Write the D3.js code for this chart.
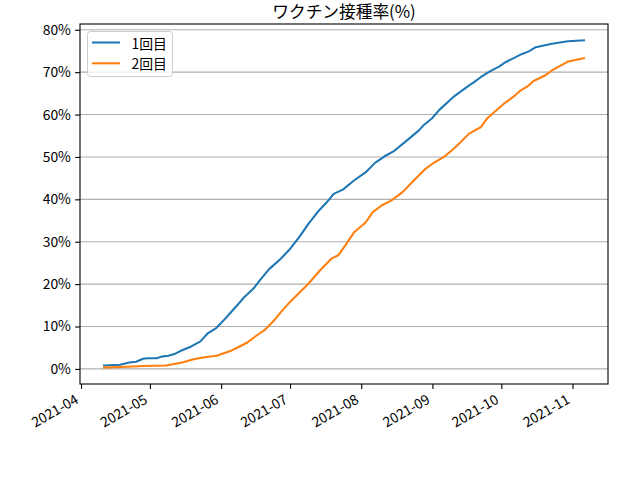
<!DOCTYPE html>
<html><head><meta charset="utf-8">
<script src="https://cdn.jsdelivr.net/npm/d3@7"></script>
<style>
html,body{margin:0;padding:0;background:#fff;}
svg{display:block;}
text{font-family:"Noto Sans CJK JP","Noto Sans",sans-serif;fill:#000;}
</style></head>
<body>
<script>
const title = "ワクチン接種率(%)";
const seriesNames = ["1回目", "2回目"];
const seriesColors = ["#1f77b4", "#ff7f0e"];

const dose1Dates = ["2021-04-11","2021-04-18","2021-04-22","2021-04-25","2021-04-28","2021-04-30","2021-05-04","2021-05-06","2021-05-09","2021-05-12","2021-05-15","2021-05-19","2021-05-23","2021-05-26","2021-05-30","2021-06-02","2021-06-05","2021-06-08","2021-06-11","2021-06-15","2021-06-18","2021-06-22","2021-06-27","2021-07-01","2021-07-05","2021-07-09","2021-07-13","2021-07-17","2021-07-20","2021-07-24","2021-07-29","2021-08-03","2021-08-07","2021-08-11","2021-08-15","2021-08-20","2021-08-26","2021-08-28","2021-09-01","2021-09-04","2021-09-10","2021-09-17","2021-09-19","2021-09-22","2021-09-26","2021-09-30","2021-10-03","2021-10-06","2021-10-10","2021-10-13","2021-10-16","2021-10-23","2021-10-30","2021-11-06"];
const dose1Values = [0.8,1.0,1.5,1.7,2.4,2.5,2.5,2.9,3.1,3.6,4.4,5.3,6.5,8.3,9.7,11.4,13.2,15.0,16.9,18.9,21.0,23.6,26.0,28.3,31.1,34.2,37.0,39.3,41.3,42.3,44.5,46.4,48.6,50.1,51.3,53.5,56.2,57.4,59.2,61.1,64.1,66.9,67.6,68.8,70.2,71.3,72.4,73.2,74.3,74.9,75.9,76.7,77.3,77.5];

const dose2Dates = ["2021-04-11","2021-04-21","2021-04-28","2021-05-08","2021-05-11","2021-05-15","2021-05-20","2021-05-24","2021-05-30","2021-06-05","2021-06-08","2021-06-12","2021-06-16","2021-06-20","2021-06-24","2021-06-27","2021-07-01","2021-07-09","2021-07-14","2021-07-19","2021-07-22","2021-07-25","2021-07-29","2021-08-03","2021-08-06","2021-08-10","2021-08-14","2021-08-19","2021-08-24","2021-08-29","2021-09-01","2021-09-06","2021-09-11","2021-09-17","2021-09-22","2021-09-25","2021-10-02","2021-10-06","2021-10-09","2021-10-13","2021-10-15","2021-10-20","2021-10-23","2021-10-27","2021-10-30","2021-11-06"];
const dose2Values = [0.3,0.5,0.7,0.8,1.1,1.5,2.3,2.7,3.1,4.2,5.0,6.1,7.7,9.2,11.4,13.4,15.8,20.1,23.2,26.0,26.8,29.1,32.3,34.6,37.0,38.6,39.7,41.7,44.5,47.2,48.4,50.0,52.3,55.5,57.0,59.2,62.5,64.1,65.5,66.9,67.9,69.2,70.4,71.6,72.5,73.3];

const yTickValues = [0,10,20,30,40,50,60,70,80];
const xTickLabels = ["2021-04","2021-05","2021-06","2021-07","2021-08","2021-09","2021-10","2021-11"];

const W = 640, H = 480;
const L = 80, R = 608, T = 24, B = 384;

const parse = d3.utcParse("%Y-%m-%d");
const parseM = d3.utcParse("%Y-%m");
const series = [
  dose1Dates.map((d,i)=>({date:parse(d), v:dose1Values[i]})),
  dose2Dates.map((d,i)=>({date:parse(d), v:dose2Values[i]}))
];

const allDates = series.flat().map(d=>d.date);
const allVals = series.flat().map(d=>d.v);
const [d0,d1] = d3.extent(allDates);
const dm = (d1-d0)*0.05;
const [v0,v1] = d3.extent(allVals);
const vm = (v1-v0)*0.05;

const x = d3.scaleUtc().domain([new Date(+d0-dm), new Date(+d1+dm)]).range([L,R]);
const y = d3.scaleLinear().domain([v0-vm, v1+vm]).range([B,T]);

const svg = d3.select("body").append("svg").attr("width",W).attr("height",H);

// grid
svg.append("g").selectAll("line").data(yTickValues).join("line")
  .attr("x1",L).attr("x2",R)
  .attr("y1",d=>y(d)).attr("y2",d=>y(d))
  .attr("stroke","#b0b0b0").attr("stroke-width",1.1);

// lines
const line = d3.line().x(d=>x(d.date)).y(d=>y(d.v));
series.forEach((s,i)=>{
  svg.append("path").datum(s).attr("d",line)
    .attr("fill","none").attr("stroke",seriesColors[i])
    .attr("stroke-width",2.08).attr("stroke-linejoin","round").attr("stroke-linecap","square");
});

// frame
svg.append("rect").attr("x",L).attr("y",T).attr("width",R-L).attr("height",B-T)
  .attr("fill","none").attr("stroke","#000").attr("stroke-width",1.1);

// y axis
const yAxis = d3.axisLeft(y).tickValues(yTickValues).tickFormat(d=>d+"%").tickSize(4.9).tickPadding(4.2);
const gy = svg.append("g").attr("transform",`translate(${L},0)`).call(yAxis);
gy.select(".domain").remove();
gy.selectAll("line").attr("stroke","#000").attr("stroke-width",1.1);
gy.selectAll("text").style("font-size","13.9px").style("font-family","'Noto Sans CJK JP', sans-serif");

// x axis
const xTicks = xTickLabels.map(s=>parseM(s));
const xAxis = d3.axisBottom(x).tickValues(xTicks).tickFormat(d3.utcFormat("%Y-%m")).tickSize(4.9).tickPadding(4);
const gx = svg.append("g").attr("transform",`translate(0,${B})`).call(xAxis);
gx.select(".domain").remove();
gx.selectAll("line").attr("stroke","#000").attr("stroke-width",1.1);
gx.selectAll("text")
  .style("font-size","13.9px").style("font-family","'Noto Sans CJK JP', sans-serif")
  .attr("text-anchor","end").attr("dy",null).attr("y",null)
  .attr("transform","translate(-4,15) rotate(-30)")
  .attr("dominant-baseline","middle");

// title
svg.append("text").attr("x",(L+R)/2).attr("y",18).attr("text-anchor","middle")
  .style("font-size","16.7px").text(title);

// legend
const lg = svg.append("g");
lg.append("rect").attr("x",87.5).attr("y",31.5).attr("width",85).attr("height",45).attr("rx",3)
  .attr("fill","#fff").attr("fill-opacity",0.8).attr("stroke","#cccccc").attr("stroke-width",1);
seriesNames.forEach((n,i)=>{
  const yy = 42.5 + i*20.8;
  lg.append("line").attr("x1",92).attr("x2",120).attr("y1",yy).attr("y2",yy)
    .attr("stroke",seriesColors[i]).attr("stroke-width",2.08);
  lg.append("text").attr("x",131.5).attr("y",yy).attr("dominant-baseline","central")
    .style("font-size","13.9px").text(n);
});
</script>
</body></html>
